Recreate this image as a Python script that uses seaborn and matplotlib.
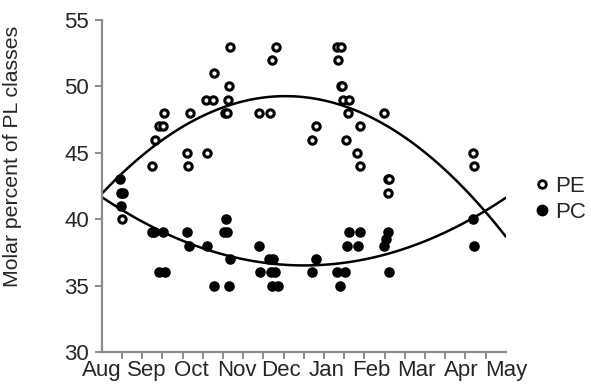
import matplotlib
matplotlib.use("Agg")
import matplotlib.pyplot as plt
from matplotlib.lines import Line2D
import numpy as np
import pandas as pd
import seaborn as sns

# Sampling time in months after 1 August, and molar percent of each class
pe_month = [0.45, 1.12, 1.19, 1.28, 1.37, 1.39, 1.90, 1.92, 1.97, 2.32, 2.35, 2.48,
            2.50, 2.75, 2.78, 2.81, 2.84, 2.86, 3.50, 3.75, 3.79, 3.88, 4.68, 4.77,
            5.24, 5.26, 5.33, 5.33, 5.36, 5.37, 5.44, 5.49, 5.51, 5.69, 5.75, 5.75,
            6.29, 6.38, 6.40, 6.38, 8.27, 8.29]
pe_value = [40, 44, 46, 47, 47, 48, 45, 44, 48, 49, 45, 49,
            51, 48, 48, 49, 50, 53, 48, 48, 52, 53, 46, 47,
            53, 52, 53, 50, 50, 49, 46, 48, 49, 45, 47, 44,
            48, 43, 43, 42, 45, 44]

pc_month = [0.41, 0.43, 0.47, 0.43, 1.12, 1.16, 1.37, 1.28, 1.41, 1.90, 1.94, 2.35,
            2.50, 2.72, 2.77, 2.79, 2.84, 2.86, 3.50, 3.52, 3.72, 3.77, 3.79, 3.81,
            3.86, 3.93, 4.68, 4.77, 5.24, 5.31, 5.42, 5.46, 5.51, 5.71, 5.75, 6.29,
            6.33, 6.38, 6.40, 8.27, 8.29]
pc_value = [43, 42, 42, 41, 39, 39, 39, 36, 36, 39, 38, 38,
            35, 39, 40, 39, 35, 37, 38, 36, 37, 36, 35, 37,
            36, 35, 36, 37, 36, 35, 36, 38, 39, 38, 39, 38,
            38.5, 39, 36, 40, 38]

month_labels = ["Aug", "Sep", "Oct", "Nov", "Dec", "Jan", "Feb", "Mar", "Apr", "May"]

pe = pd.DataFrame({"month": pe_month, "percent": pe_value})
pc = pd.DataFrame({"month": pc_month, "percent": pc_value})

sns.set_style("white")
plt.rcParams["font.family"] = ["Liberation Sans", "DejaVu Sans"]

fig = plt.figure(figsize=(5.91, 3.87), dpi=100)
ax = fig.add_axes([0.172, 0.0904, 0.684, 0.8579])
ax.set_xlim(0, 9)
ax.set_ylim(30, 55)

# Quadratic trend lines spanning the whole season
line_kw = dict(color="black", lw=1.8)
sns.regplot(data=pe, x="month", y="percent", order=2, ci=None, scatter=False,
            truncate=False, line_kws=line_kw, ax=ax)
sns.regplot(data=pc, x="month", y="percent", order=2, ci=None, scatter=False,
            truncate=False, line_kws=line_kw, ax=ax)

sns.scatterplot(data=pe, x="month", y="percent", marker="o", s=28,
                facecolor="white", edgecolor="black", linewidth=2.2, ax=ax, zorder=3)
sns.scatterplot(data=pc, x="month", y="percent", marker="o", s=58,
                color="black", edgecolor="black", linewidth=0, ax=ax, zorder=3)

ax.set_xlim(0, 9)
ax.set_ylim(30, 55)

axis_grey = "#8c8c8c"
for side in ["top", "right"]:
    ax.spines[side].set_visible(False)
for side in ["left", "bottom"]:
    ax.spines[side].set_color(axis_grey)
    ax.spines[side].set_linewidth(1.6)

ax.set_yticks([30, 35, 40, 45, 50, 55])
ax.tick_params(axis="y", which="major", direction="out", length=5, width=1.4,
               color=axis_grey, labelsize=16, pad=4, left=True)

# Month names centred under the axis, with half-month tick marks
ax.set_xticks(np.arange(len(month_labels)))
ax.set_xticklabels(month_labels)
ax.tick_params(axis="x", which="major", length=0, labelsize=16, pad=6, bottom=True)
ax.set_xticks(np.linspace(0, 9, 21), minor=True)
ax.tick_params(axis="x", which="minor", direction="out", length=5, width=1.4,
               color=axis_grey, bottom=True)

ax.set_xlabel("")
ax.set_ylabel("Molar percent of PL classes", fontsize=15.3)
ax.yaxis.set_label_coords(-0.197, 0.59)

handles = [
    Line2D([], [], linestyle="none", marker="o", markersize=5.5,
           markerfacecolor="white", markeredgecolor="black", markeredgewidth=2.0),
    Line2D([], [], linestyle="none", marker="o", markersize=7.5,
           markerfacecolor="black", markeredgecolor="black"),
]
fig.legend(handles, ["PE", "PC"], loc="center left",
           bbox_to_anchor=(0.905, 0.485), frameon=False, fontsize=16,
           handlelength=0.6, handletextpad=0.3, labelspacing=0.25,
           borderpad=0, borderaxespad=0)

fig.savefig("out.png", dpi=100)
